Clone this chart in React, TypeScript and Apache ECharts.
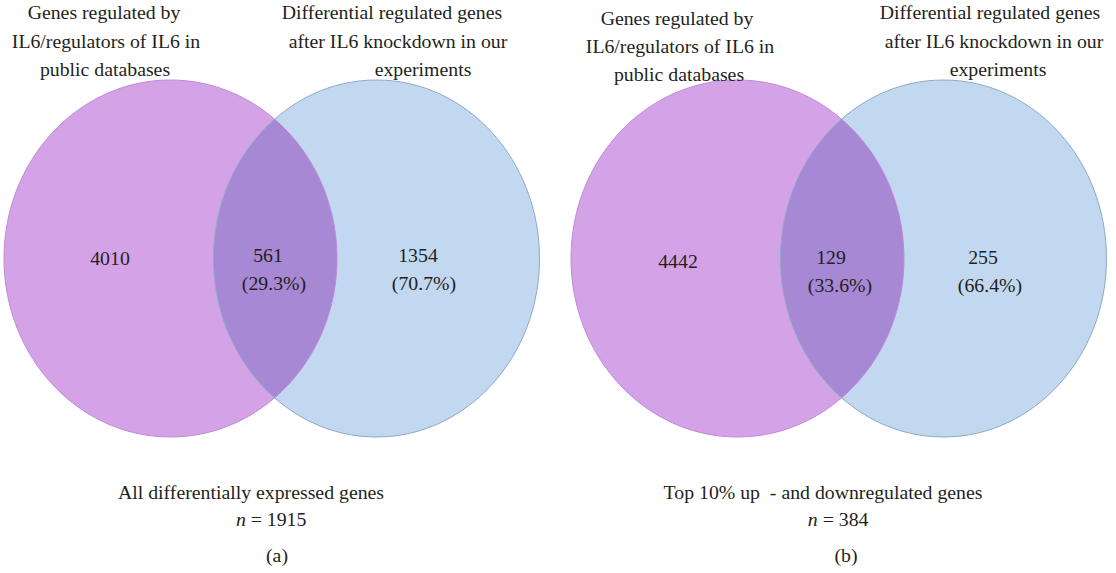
import React, { useEffect, useRef } from "react";
import * as echarts from "echarts";

// ---- data ----
const panelTags = ["(a)", "(b)"];
const subtitles = ["All differentially expressed genes", "Top 10% up  - and downregulated genes"];
const leftOnly = [4010, 4442];
const overlap = [561, 129];
const rightOnly = [1354, 255];
const leftSetLabel = ["Genes regulated by", "IL6/regulators of IL6 in", "public databases"];
const rightSetLabel = ["Differential regulated genes", "after IL6 knockdown in our", "experiments"];

// ---- layout ----
const W = 1116;
const H = 573;
const FONT = "Liberation Serif, serif";
const FS = 19.8;
const TXT = "#231f20";
const panelOffsetX = [0, 567];
const geom = { c1: 170.5, rx1: 166.5, c2: 376.5, rx2: 163, cy: 258.5, ry: 178.5 };
const leftLabelX = [[104, 106, 105], [677, 680, 679]];
const leftLabelY = [[12, 40.5, 68.5], [17.5, 46, 74]];
const rightLabelX = [[392, 398, 423], [990, 994, 998]];
const rightLabelY = [[12, 40.5, 68.5], [12, 40.5, 68.5]];
const numPos = [
  { l: [110, 258], o: [268, 255], op: [274, 283], r: [418, 255], rp: [424, 283] },
  { l: [678, 261], o: [831, 257], op: [840, 285], r: [983, 257], rp: [990, 285] },
];
const bottomX = [[251, 273, 277], [823, 840, 846]];
const bottomY = [491.5, 518.5, 555];

function lensPoints(ox: number) {
  const { c1, rx1, c2, rx2, cy, ry } = geom;
  const a1 = c1 + ox;
  const a2 = c2 + ox;
  const N = 600;
  const pts: number[][] = [];
  const in1 = (x: number, y: number) => ((x - a1) / rx1) ** 2 + ((y - cy) / ry) ** 2 <= 1.000001;
  const in2 = (x: number, y: number) => ((x - a2) / rx2) ** 2 + ((y - cy) / ry) ** 2 <= 1.000001;
  for (let i = 0; i <= N; i++) {
    const t = -Math.PI / 2 + (Math.PI * i) / N;
    const x = a1 + rx1 * Math.cos(t);
    const y = cy + ry * Math.sin(t);
    if (in2(x, y)) pts.push([x, y]);
  }
  for (let i = 0; i <= N; i++) {
    const t = Math.PI / 2 + (Math.PI * i) / N;
    const x = a2 + rx2 * Math.cos(t);
    const y = cy + ry * Math.sin(t);
    if (in1(x, y)) pts.push([x, y]);
  }
  return pts;
}

function txt(text: string, x: number, y: number, italic = false, align = "center") {
  return {
    type: "text",
    x,
    y,
    style: {
      text,
      fill: TXT,
      font: `${italic ? "italic " : ""}${FS}px ${FONT}`,
      align,
      verticalAlign: "middle",
    },
  };
}

function buildPanel(p: number) {
  const ox = panelOffsetX[p];
  const { c1, rx1, c2, rx2, cy, ry } = geom;
  const n = overlap[p] + rightOnly[p];
  const pct = (v: number) => `(${((v / n) * 100).toFixed(1)}%)`;
  const els: any[] = [];
  els.push({ type: "ellipse", shape: { cx: c1 + ox, cy, rx: rx1, ry }, style: { fill: "#d4a2e6", stroke: "none" } });
  els.push({ type: "ellipse", shape: { cx: c2 + ox, cy, rx: rx2, ry }, style: { fill: "#c1d8f0", stroke: "none" } });
  els.push({ type: "polygon", shape: { points: lensPoints(ox) }, style: { fill: "#a688d4", stroke: "none" } });
  els.push({ type: "ellipse", shape: { cx: c1 + ox, cy, rx: rx1, ry }, style: { fill: "none", stroke: "#c08ad8", lineWidth: 1 } });
  els.push({ type: "ellipse", shape: { cx: c2 + ox, cy, rx: rx2, ry }, style: { fill: "none", stroke: "#8fa9c6", lineWidth: 1 } });
  leftSetLabel.forEach((s, i) => els.push(txt(s, leftLabelX[p][i], leftLabelY[p][i])));
  rightSetLabel.forEach((s, i) => els.push(txt(s, rightLabelX[p][i], rightLabelY[p][i])));
  const np = numPos[p];
  els.push(txt(String(leftOnly[p]), np.l[0], np.l[1]));
  els.push(txt(String(overlap[p]), np.o[0], np.o[1]));
  els.push(txt(pct(overlap[p]), np.op[0], np.op[1]));
  els.push(txt(String(rightOnly[p]), np.r[0], np.r[1]));
  els.push(txt(pct(rightOnly[p]), np.rp[0], np.rp[1]));
  els.push(txt(subtitles[p], bottomX[p][0], bottomY[0]));
  // "n = N" : italic n followed by roman text, centred as a pair
  const rest = ` = ${n}`;
  const nW = FS * 0.5;
  const restW = rest.length * FS * 0.5 - FS * 0.25;
  const startX = bottomX[p][1] - (nW + restW) / 2;
  els.push(txt("n", startX, bottomY[1], true, "left"));
  els.push(txt(rest, startX + nW, bottomY[1], false, "left"));
  els.push(txt(panelTags[p], bottomX[p][2], bottomY[2]));
  return els;
}

export default function App() {
  const ref = useRef<HTMLDivElement>(null);
  useEffect(() => {
    if (!ref.current) return;
    const chart = echarts.init(ref.current, undefined, { renderer: "svg" });
    chart.setOption({
      animation: false,
      backgroundColor: "#ffffff",
      graphic: { elements: [...buildPanel(0), ...buildPanel(1)] },
    });
    return () => chart.dispose();
  }, []);
  return <div ref={ref} style={{ position: "fixed", left: 0, top: 0, width: W, height: H }} />;
}
